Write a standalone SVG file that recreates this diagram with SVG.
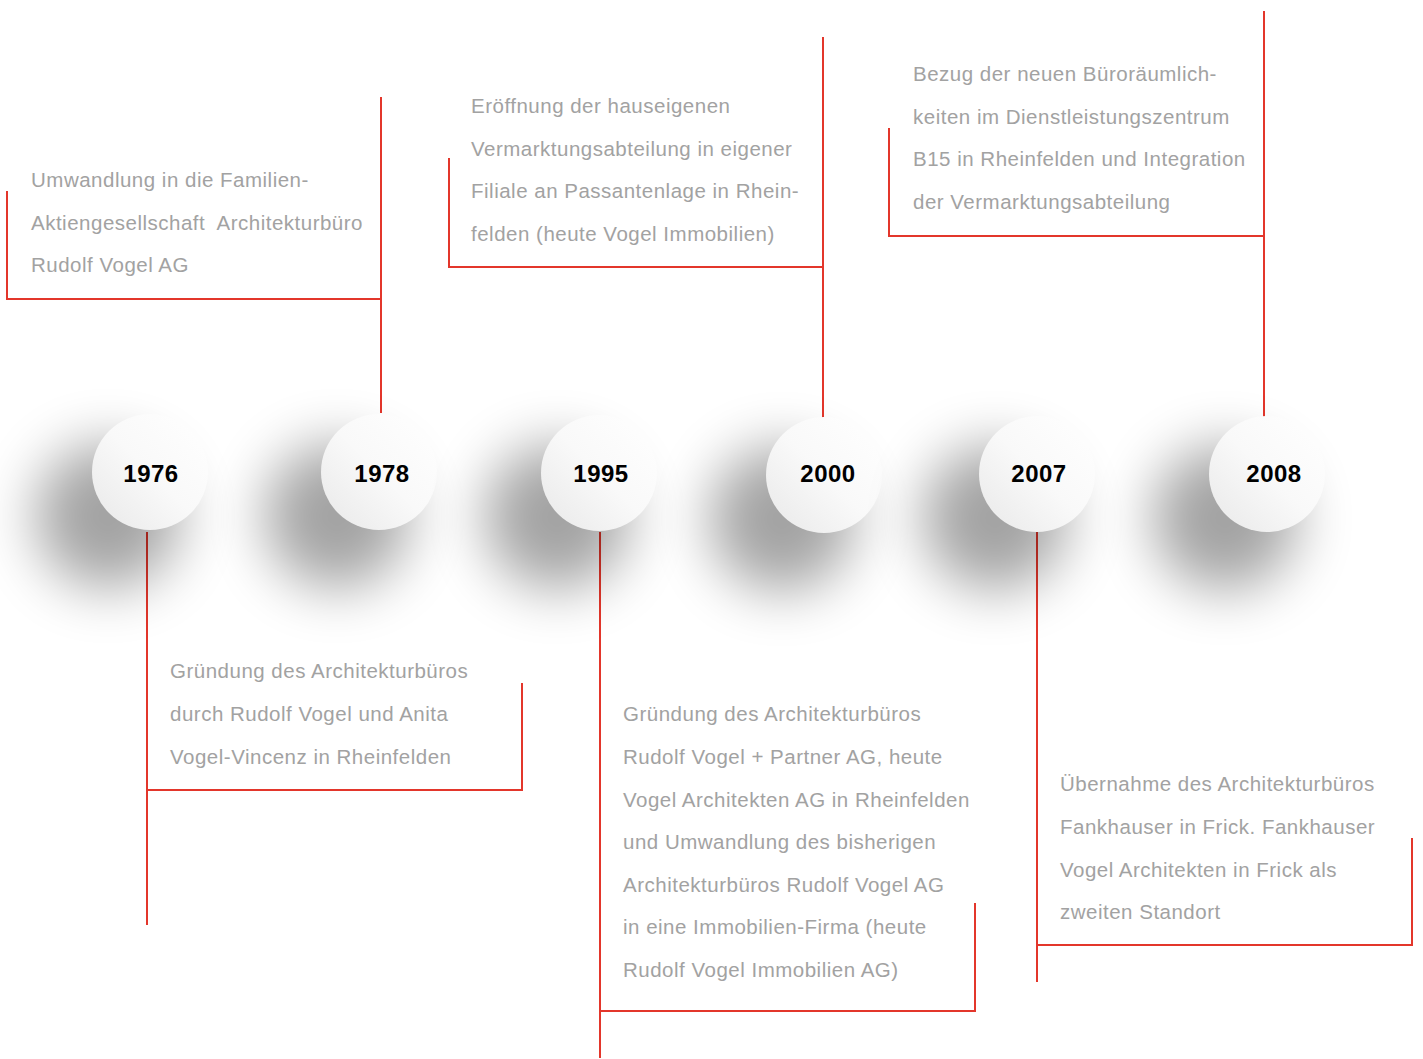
<svg xmlns="http://www.w3.org/2000/svg" width="1423" height="1059" viewBox="0 0 1423 1059">
<defs>
<style>
.ln{stroke:#e3362b;stroke-width:1.3;fill:none;shape-rendering:crispEdges}
.tx{font-family:"Liberation Sans",Arial,sans-serif;font-size:20.5px;letter-spacing:0.5px;fill:#a2a2a2}
.yr{font-family:"Liberation Sans",Arial,sans-serif;font-size:24px;font-weight:bold;fill:#000;text-anchor:middle;letter-spacing:0.5px}
</style>
<linearGradient id="cg" x1="1" y1="0" x2="0" y2="1">
<stop offset="0" stop-color="#ffffff"/>
<stop offset="0.5" stop-color="#f9f9f9"/>
<stop offset="1" stop-color="#e8e8e8"/>
</linearGradient>
<filter id="sh" x="-100%" y="-100%" width="300%" height="300%">
<feGaussianBlur stdDeviation="28"/>
</filter>
<g id="ball">
<circle cx="-42" cy="44" r="72" fill="#000" opacity="0.36" filter="url(#sh)"/>
<circle cx="0" cy="0" r="58" fill="url(#cg)"/>
</g>
</defs>
<rect width="1423" height="1059" fill="#fff"/>
<g id="connectors">
<path class="ln" d="M147 532V925M147 790H522V683"/>
<path class="ln" d="M381 97V413M381 299H7V191"/>
<path class="ln" d="M600 532V1058M600 1011H975V903"/>
<path class="ln" d="M823 37V420M823 267H449V158"/>
<path class="ln" d="M1037 532V982M1037 945H1412V838"/>
<path class="ln" d="M1264 11V420M1264 236H889V128"/>
</g>
<g id="n1976"><use href="#ball" x="150" y="472"/><text class="yr" x="151" y="482">1976</text>
<g class="tx"><text x="170" y="678">Gründung des Architekturbüros</text><text x="170" y="721">durch Rudolf Vogel und Anita</text><text x="170" y="764">Vogel-Vincenz in Rheinfelden</text></g></g>
<g id="n1978"><use href="#ball" x="379" y="472"/><text class="yr" x="382" y="482">1978</text>
<g class="tx"><text x="31" y="187">Umwandlung in die Familien-</text><text x="31" y="230" xml:space="preserve">Aktiengesellschaft  Architekturbüro</text><text x="31" y="272">Rudolf Vogel AG</text></g></g>
<g id="n1995"><use href="#ball" x="599" y="473"/><text class="yr" x="601" y="482">1995</text>
<g class="tx"><text x="623" y="721">Gründung des Architekturbüros</text><text x="623" y="764">Rudolf Vogel + Partner AG, heute</text><text x="623" y="807">Vogel Architekten AG in Rheinfelden</text><text x="623" y="849">und Umwandlung des bisherigen</text><text x="623" y="892">Architekturbüros Rudolf Vogel AG</text><text x="623" y="934">in eine Immobilien-Firma (heute</text><text x="623" y="977">Rudolf Vogel Immobilien AG)</text></g></g>
<g id="n2000"><use href="#ball" x="824" y="475"/><text class="yr" x="828" y="482">2000</text>
<g class="tx"><text x="471" y="113">Eröffnung der hauseigenen</text><text x="471" y="156">Vermarktungsabteilung in eigener</text><text x="471" y="198">Filiale an Passantenlage in Rhein-</text><text x="471" y="241">felden (heute Vogel Immobilien)</text></g></g>
<g id="n2007"><use href="#ball" x="1037" y="474"/><text class="yr" x="1039" y="482">2007</text>
<g class="tx"><text x="1060" y="791">Übernahme des Architekturbüros</text><text x="1060" y="834">Fankhauser in Frick. Fankhauser</text><text x="1060" y="877">Vogel Architekten in Frick als</text><text x="1060" y="919">zweiten Standort</text></g></g>
<g id="n2008"><use href="#ball" x="1267" y="474"/><text class="yr" x="1274" y="482">2008</text>
<g class="tx"><text x="913" y="81">Bezug der neuen Büroräumlich-</text><text x="913" y="124">keiten im Dienstleistungszentrum</text><text x="913" y="166">B15 in Rheinfelden und Integration</text><text x="913" y="209">der Vermarktungsabteilung</text></g></g>
</svg>
